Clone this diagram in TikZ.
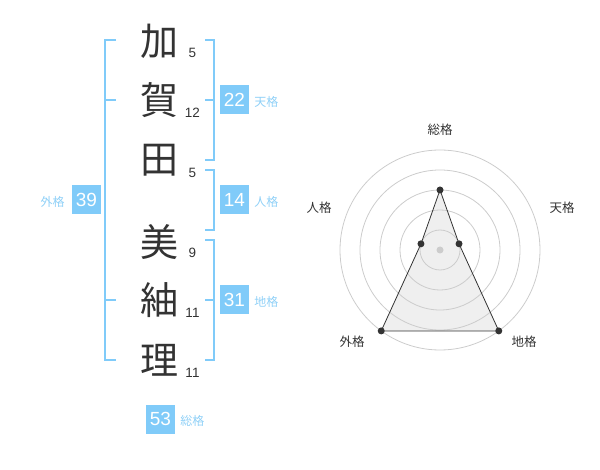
\documentclass[tikz,border=0pt]{standalone}
\usepackage{fontspec}
\setmainfont{Liberation Sans}
\newfontfamily\jp{Noto Sans CJK JP}
\usepackage{tikz}
\usetikzlibrary{positioning}
\definecolor{boxblue}{HTML}{80CBF9}
\definecolor{lblblue}{HTML}{8FD0F7}
\definecolor{ink}{HTML}{333333}
\definecolor{ring}{HTML}{CCCCCC}
\definecolor{area}{HTML}{EFEFEF}

\begin{document}
\begin{tikzpicture}[x=1pt,y=-1pt,
  kanji/.style={text=ink,inner sep=0,font=\jp\fontsize{38}{38}\selectfont},
  strokes/.style={text=ink,inner sep=0,font=\fontsize{13.5}{13.5}\selectfont},
  score/.style={fill=boxblue,text=white,minimum size=29,inner sep=0,font=\fontsize{19}{19}\selectfont},
  kaku/.style={text=lblblue,inner sep=0,font=\jp\fontsize{12}{12}\selectfont},
  axis/.style={text=ink,inner sep=0,font=\jp\fontsize{12.5}{12.5}\selectfont},
  bracket/.style={draw=boxblue,line width=2}]
\useasboundingbox (0,0) rectangle (600,470);

% name
\node[kanji] (1) at (159,41) {加};
\node[kanji] (2) at (159,100) {賀};
\node[kanji] (3) at (159,160) {田};
\node[kanji] (4) at (159,242) {美};
\node[kanji] (5) at (159,300) {紬};
\node[kanji] (6) at (159,360) {理};

\node[strokes] (n1) at (192.5,52.5) {5};
\node[strokes] (n2) at (192.5,112.5) {12};
\node[strokes] (n3) at (192.5,172.5) {5};
\node[strokes] (n4) at (192.5,252.5) {9};
\node[strokes] (n5) at (192.5,312.5) {11};
\node[strokes] (n6) at (192.5,372.5) {11};

% brackets
\draw[bracket] (116,40) -- (105,40) -- (105,360) -- (116,360);
\draw[bracket] (105,100) -- (116,100);
\draw[bracket] (105,300) -- (116,300);

\draw[bracket] (205,40) -- (214,40) -- (214,160) -- (205,160);
\draw[bracket] (214,100) -- (205,100);
\draw[bracket] (205,170) -- (214,170) -- (214,230) -- (205,230);
\draw[bracket] (205,240) -- (214,240) -- (214,360) -- (205,360);
\draw[bracket] (214,300) -- (205,300);

% scores
\node[score] (ten) at (234.5,100) {22};
\node[kaku,right=5pt of ten,yshift=-2pt] (l1) {天格};
\node[score] (jin) at (234.5,200) {14};
\node[kaku,right=5pt of jin,yshift=-2pt] (l2) {人格};
\node[score] (chi) at (234.5,300) {31};
\node[kaku,right=5pt of chi,yshift=-2pt] (l3) {地格};
\node[score] (gai) at (86.5,200) {39};
\node[kaku,left=7pt of gai,yshift=-2pt] (l4) {外格};
\node[score] (sou) at (160.5,419) {53};
\node[kaku,right=5pt of sou,yshift=-2pt] (l5) {総格};

% radar
\begin{scope}[shift={(440,250)},y=1pt]
\coordinate (s) at (90:60);
\coordinate (t) at (18:20);
\coordinate (c) at (-54:100);
\coordinate (g) at (234:100);
\coordinate (j) at (162:20);
\fill[area] (s) -- (t) -- (c) -- (g) -- (j) -- cycle;
\foreach \r in {20,40,60,80,100}
  \draw[ring,line width=0.8] (0,0) circle (\r);
\fill[ring] (0,0) circle (3.5);
\draw[ink,line width=0.8] (s) -- (t) -- (c) -- (g) -- (j) -- cycle;
\foreach \p in {s,t,c,g,j}
  \fill[ink] (\p) circle (3.5);
\end{scope}

\node[axis] (a1) at (440,130) {総格};
\node[axis] (a2) at (562,208) {天格};
\node[axis] (a3) at (319,208) {人格};
\node[axis] (a4) at (524,342) {地格};
\node[axis] (a5) at (352,342) {外格};
\end{tikzpicture}
\end{document}
